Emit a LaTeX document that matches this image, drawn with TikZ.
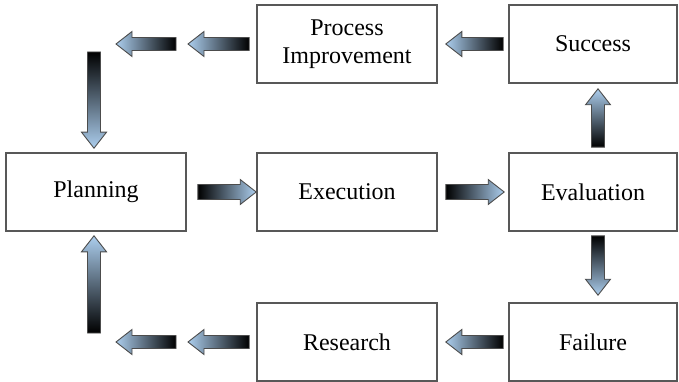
\documentclass[tikz,border=0pt]{standalone}
\usepackage{fontspec}
\setmainfont{Liberation Serif}
\usepackage{xcolor}
\usetikzlibrary{calc}

\definecolor{headblue}{RGB}{172,206,238}
\definecolor{boxline}{RGB}{88,88,88}

\tikzset{
  stage/.style={draw=boxline, line width=1.6pt, minimum width=180pt, minimum height=78pt,
    inner sep=0pt, align=center, font=\fontsize{24}{28}\selectfont},
  arrowbody/.style={draw=black!70, line width=0.9pt, line join=miter}
}

\newcommand{\headw}{12.5}
\newcommand{\headl}{16}
% block arrow: [half shaft] tail, tip, shading angle
\newcommand{\flowarrow}[4][6.5]{%
  \shade[arrowbody, top color=headblue, bottom color=black, shading angle=#4]
    let \p1=(#2), \p2=(#3),
        \n1={veclen(\x2-\x1,\y2-\y1)},
        \n2={(\x2-\x1)/\n1}, \n3={(\y2-\y1)/\n1}
    in ({\x1-#1*\n3},{\y1+#1*\n2})
    -- ({\x2-\headl*\n2-#1*\n3},{\y2-\headl*\n3+#1*\n2})
    -- ({\x2-\headl*\n2-\headw*\n3},{\y2-\headl*\n3+\headw*\n2})
    -- (\p2)
    -- ({\x2-\headl*\n2+\headw*\n3},{\y2-\headl*\n3-\headw*\n2})
    -- ({\x2-\headl*\n2+#1*\n3},{\y2-\headl*\n3-#1*\n2})
    -- ({\x1+#1*\n3},{\y1-#1*\n2}) -- cycle;}

\begin{document}
\begin{tikzpicture}[x=1pt, y=1pt]
  \useasboundingbox (0,0) rectangle (679,-382);

  % boxes
  \node[stage] (plan) at (96,-192) {Planning};
  \node[stage] (exec) at (347,-192) {Execution};
  \node[stage, minimum width=168pt] (eval) at (593,-192) {Evaluation};
  \node[stage] (improve) at (347,-44) {Process\\Improvement};
  \node[stage, minimum width=168pt] (success) at (593,-44) {Success};
  \node[stage] (research) at (347,-342) {Research};
  \node[stage, minimum width=168pt] (failure) at (593,-342) {Failure};

  % free ends
  \coordinate (topa) at (176,-44);
  \coordinate (topb) at (116,-44);
  \coordinate (topc) at (188,-44);
  \coordinate (bota) at (176,-342);
  \coordinate (botb) at (116,-342);
  \coordinate (botc) at (188,-342);
  \coordinate (downtail) at (94,-52);
  \coordinate (uptail) at (94,-333);

  % main line
  \flowarrow[7.5]{$(plan.east)+(11,0)$}{exec.west}{-90}
  \flowarrow[7.5]{$(exec.east)+(8,0)$}{$(eval.west)+(-4,0)$}{-90}
  \flowarrow{$(eval.north)+(5,5)$}{$(success.south)+(5,-5)$}{0}
  \flowarrow{$(eval.south)+(5,-4)$}{$(failure.north)+(5,7)$}{180}

  % back to planning, top
  \flowarrow{$(success.west)+(-5,0)$}{$(improve.east)+(8,0)$}{90}
  \flowarrow{$(improve.west)+(-7,0)$}{topc}{90}
  \flowarrow{topa}{topb}{90}
  \flowarrow{downtail}{$(plan.north)+(-2,4)$}{180}

  % back to planning, bottom
  \flowarrow{$(failure.west)+(-5,0)$}{$(research.east)+(8,0)$}{90}
  \flowarrow{$(research.west)+(-7,0)$}{botc}{90}
  \flowarrow{bota}{botb}{90}
  \flowarrow{uptail}{$(plan.south)+(-2,-4)$}{0}
\end{tikzpicture}
\end{document}
